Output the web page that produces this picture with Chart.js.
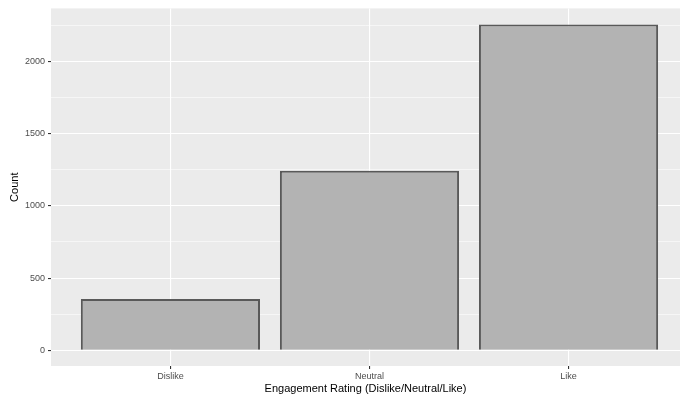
<!DOCTYPE html>
<html>
<head>
<meta charset="utf-8">
<script src="https://cdn.jsdelivr.net/npm/chart.js@4"></script>
<style>
  html, body { margin: 0; padding: 0; background: #ffffff; }
  #wrap { width: 680px; height: 400px; }
</style>
</head>
<body>
<div id="wrap"><canvas id="barChart" width="680" height="400"></canvas></div>
<script>
// Data
const categories = ['Dislike', 'Neutral', 'Like'];
const counts = [355, 1243, 2255];
const yTicks = [0, 500, 1000, 1500, 2000];
const yMinorTicks = [250, 750, 1250, 1750, 2250];

// ggplot-ish grey panel behind the plot area
const panelBg = {
    id: 'panelBg',
    beforeDraw(chart) {
        const a = chart.chartArea;
        const ctx = chart.ctx;
        ctx.save();
        ctx.fillStyle = '#EBEBEB';
        ctx.fillRect(a.left, a.top, a.right - a.left, a.bottom - a.top);
        ctx.restore();
    }
};

const points = counts.map((c, i) => ({ x: i, y: c }));

const ctx = document.getElementById('barChart').getContext('2d');
const barChart = new Chart(ctx, {
    type: 'bar',
    data: {
        datasets: [{
            data: points,
            backgroundColor: '#B3B3B3',
            borderColor: '#595959',
            borderWidth: 2,
            barPercentage: 1,
            categoryPercentage: 0.9
        }]
    },
    options: {
        responsive: false,
        animation: false,
        layout: { padding: { top: 7, right: 0, left: 0, bottom: 0 } },
        plugins: { legend: { display: false }, tooltip: { enabled: false } },
        scales: {
            x: {
                type: 'linear',
                min: -0.6,
                max: 2.56,
                offset: false,
                afterBuildTicks(scale) {
                    scale.ticks = categories.map((c, i) => ({ value: i }));
                },
                afterFit(scale) { scale.height = 34; },
                grid: {
                    offset: false,
                    color: '#FFFFFF',
                    lineWidth: 1.1,
                    tickLength: 3,
                    tickColor: '#333333',
                    drawOnChartArea: true
                },
                border: { display: false },
                ticks: {
                    autoSkip: false,
                    maxRotation: 0,
                    padding: 2,
                    color: '#4D4D4D',
                    font: { family: 'Liberation Sans', size: 9 },
                    callback: (v) => categories[v]
                },
                title: {
                    display: true,
                    text: 'Engagement Rating (Dislike/Neutral/Like)',
                    color: '#000000',
                    font: { family: 'Liberation Sans', size: 11 },
                    padding: { top: 0, bottom: 4 }
                }
            },
            y: {
                min: -108,
                max: 2366,
                afterBuildTicks(scale) {
                    scale.ticks = yTicks.concat(yMinorTicks)
                        .sort((a, b) => a - b)
                        .map(v => ({ value: v }));
                },
                afterFit(scale) { scale.width = 51; },
                grid: {
                    color: '#FFFFFF',
                    lineWidth: (c) => (c.tick && c.tick.value % 500 === 0) ? 1.1 : 0.55,
                    tickLength: 3,
                    tickColor: (c) => (c.tick && c.tick.value % 500 === 0) ? '#333333' : 'rgba(0,0,0,0)'
                },
                border: { display: false },
                ticks: {
                    padding: 3,
                    color: '#4D4D4D',
                    font: { family: 'Liberation Sans', size: 9 },
                    callback: (v) => (v % 500 === 0 ? String(v) : '')
                },
                title: {
                    display: true,
                    text: 'Count',
                    color: '#000000',
                    font: { family: 'Liberation Sans', size: 11 },
                    padding: { top: 8, bottom: 0 }
                }
            }
        }
    },
    plugins: [panelBg]
});
</script>
</body>
</html>
